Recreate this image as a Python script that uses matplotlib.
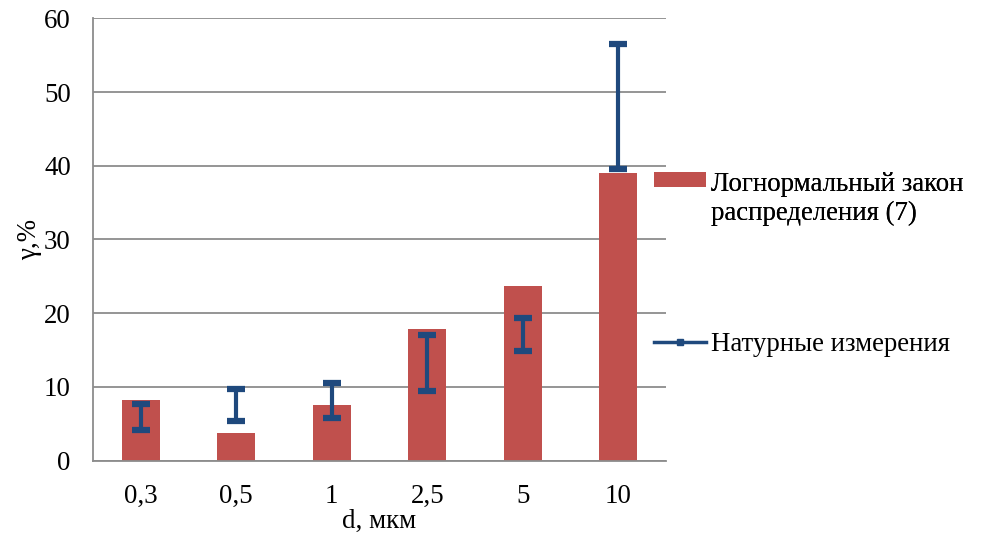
import matplotlib
matplotlib.use("Agg")
import matplotlib.pyplot as plt
from matplotlib.patches import Patch, Rectangle
from matplotlib.lines import Line2D
from matplotlib.legend_handler import HandlerPatch
import numpy as np

categories = ["0,3", "0,5", "1", "2,5", "5", "10"]
lognormal = [8.2, 3.7, 7.5, 17.9, 23.7, 39.0]
meas_low = [4.2, 5.3, 5.7, 9.4, 14.9, 39.6]
meas_high = [7.7, 9.7, 10.5, 17.0, 19.3, 56.5]
yticks = [0, 10, 20, 30, 40, 50, 60]

plt.rcParams['font.family'] = ['Liberation Serif', 'DejaVu Serif']

bar_color = "#C0504D"
err_color = "#1F497D"
grid_color = "#8C8C8C"
FS = 19.4

fig = plt.figure(figsize=(9.89, 5.36), dpi=100)
ax = fig.add_axes([93/989, 1-460.5/536, (666-93)/989, (460.5-18.3)/536])

x = np.arange(len(categories))
ax.bar(x, lognormal, width=0.40, color=bar_color, zorder=2)

low = np.array(meas_low)
high = np.array(meas_high)
mid = (low + high) / 2
_, caps, _ = ax.errorbar(x, mid, yerr=[mid - low, high - mid], fmt='none', ecolor=err_color,
                         elinewidth=3, capsize=6.5, capthick=4.5, zorder=3)

ax.set_xlim(-0.5, len(categories) - 0.5)
ax.set_ylim(0, 60)
ax.set_yticks(yticks)
ax.set_xticks(x)
ax.set_xticklabels(categories)
ax.tick_params(axis='both', length=0, labelsize=FS)
ax.tick_params(axis='x', pad=17)
ax.tick_params(axis='y', pad=16)
ax.yaxis.grid(True, color=grid_color, linewidth=1.3, zorder=0)
ax.set_axisbelow(True)
for s in ['top', 'right']:
    ax.spines[s].set_visible(False)
for s in ['left', 'bottom']:
    ax.spines[s].set_color(grid_color)
    ax.spines[s].set_linewidth(1.3)

ax.set_xlabel("d, мкм", fontsize=FS, labelpad=0)
ax.set_ylabel("γ,%", fontsize=FS, labelpad=1)


def upper_patch(legend, orig_handle, xdescent, ydescent, width, height, fontsize):
    return Rectangle((-xdescent, -ydescent + 14), width, height)


h1 = Patch(facecolor=bar_color, edgecolor='none')
h2 = Line2D([0], [0], color=err_color, lw=2.5, marker='s', markersize=5,
            markerfacecolor=err_color, markeredgecolor=err_color)
leg1 = fig.legend([h1], ["Логнормальный закон\nраспределения (7)"], loc='upper left',
                  bbox_to_anchor=(654/989, 1-172/536), frameon=False, fontsize=FS,
                  handlelength=1.93, handleheight=0.48, handletextpad=0.2, borderaxespad=0,
                  borderpad=0, labelspacing=0,
                  handler_map={Patch: HandlerPatch(patch_func=upper_patch)})
leg2 = fig.legend([h2], ["Натурные измерения"], loc='upper left',
                  bbox_to_anchor=(654/989, 1-332/536), frameon=False, fontsize=FS,
                  handlelength=1.93, handletextpad=0.2, borderaxespad=0, borderpad=0)
fig.add_artist(leg1)

fig.savefig("out.png", dpi=100)
